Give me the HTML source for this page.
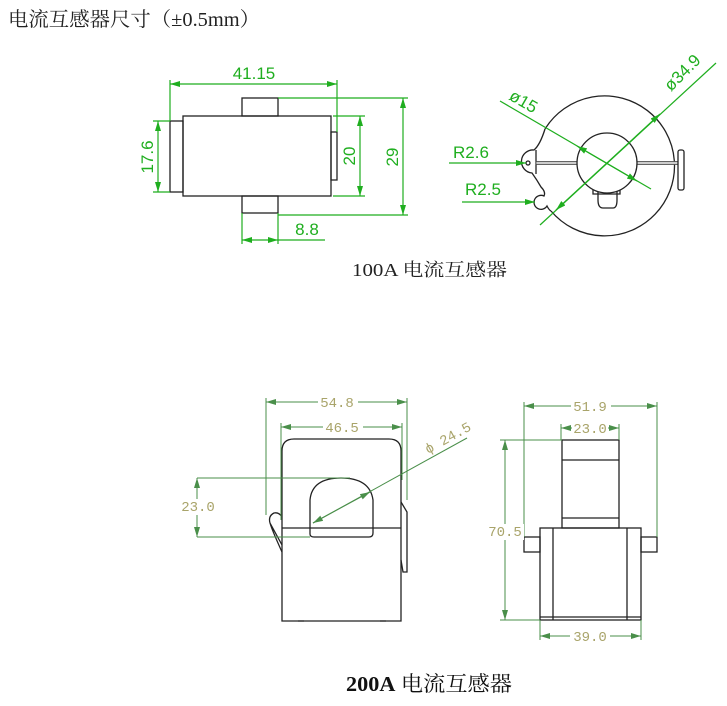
<!DOCTYPE html>
<html><head><meta charset="utf-8"><style>
body{margin:0;background:#fff;width:727px;height:706px;overflow:hidden}
svg{display:block}
.cn{font-family:"Liberation Serif","Noto Serif CJK SC","Noto Sans CJK SC",serif}
.g{stroke:#1fae1f;stroke-width:1.2;fill:none}
.gt{fill:#1fae1f;font-family:"Liberation Sans",sans-serif;font-size:17px}
.k{stroke:#222;stroke-width:1.3;fill:none}
.d{stroke:#4a8f4a;stroke-width:1;fill:none}
.dt{fill:#a9a46a;font-family:"Liberation Mono","Liberation Serif",monospace;font-size:14px}
</style></head><body>
<svg width="727" height="706" viewBox="0 0 727 706" xmlns="http://www.w3.org/2000/svg">
<defs>
<marker id="ag" markerWidth="10" markerHeight="6" refX="10" refY="3" orient="auto-start-reverse" markerUnits="userSpaceOnUse"><path d="M0,0 L10,3 L0,6z" fill="#1fae1f"/></marker>
<marker id="ad" markerWidth="10" markerHeight="6" refX="10" refY="3" orient="auto-start-reverse" markerUnits="userSpaceOnUse"><path d="M0,0 L10,3 L0,6z" fill="#4a8f4a"/></marker>
</defs>
<text x="8" y="26" class="cn" font-size="20" fill="#222" textLength="252" lengthAdjust="spacingAndGlyphs">电流互感器尺寸（±0.5mm）</text>

<!-- 100A side view -->
<rect x="170" y="121" width="13" height="71" class="k"/>
<rect x="183" y="116" width="148" height="80" class="k"/>
<rect x="242" y="98" width="36" height="18" class="k"/>
<rect x="242" y="196" width="36" height="17" class="k"/>
<rect x="331" y="132" width="6" height="48" class="k"/>
<path class="g" d="M170 80V121M337 80V132M153 121H170M153 192H170M333 116H365M333 196H365M278 98H408M278 215H408M242 213V244M278 213V244"/>
<line x1="170" y1="84" x2="337" y2="84" class="g" marker-start="url(#ag)" marker-end="url(#ag)"/>
<line x1="158" y1="121" x2="158" y2="192" class="g" marker-start="url(#ag)" marker-end="url(#ag)"/>
<line x1="360" y1="116" x2="360" y2="196" class="g" marker-start="url(#ag)" marker-end="url(#ag)"/>
<line x1="403" y1="98" x2="403" y2="215" class="g" marker-start="url(#ag)" marker-end="url(#ag)"/>
<line x1="242" y1="240" x2="278" y2="240" class="g" marker-start="url(#ag)" marker-end="url(#ag)"/>
<line x1="278" y1="240" x2="325" y2="240" class="g"/>
<text x="254" y="79" class="gt" text-anchor="middle">41.15</text>
<text x="307" y="235" class="gt" text-anchor="middle">8.8</text>
<text transform="translate(153,157) rotate(-90)" class="gt" text-anchor="middle">17.6</text>
<text transform="translate(355,156) rotate(-90)" class="gt" text-anchor="middle">20</text>
<text transform="translate(398,157) rotate(-90)" class="gt" text-anchor="middle">29</text>

<!-- 100A front view -->
<path class="k" d="M545 129 A70 70 0 1 1 551 211"/>
<path class="k" d="M545 129 Q540 145 534 150 A9 9 0 0 0 532 173 Q537 180 541 187 Q546 192 544 196 A7 7 0 1 0 547 206 Q549 210 551 211"/>
<circle cx="528" cy="163" r="2" class="k"/>
<line x1="536" y1="150" x2="536" y2="174" class="k"/>
<rect x="536" y="161.5" width="142" height="3" fill="#ccc" stroke="#444" stroke-width="0.8"/>
<path class="k" d="M598 191 L598 200 Q598 208 603 208 L613 208 Q617 208 617 200 L617 191"/>
<path class="k" d="M593 189 L593 194 L620 194 L620 189"/>
<circle cx="607" cy="163" r="30" fill="#fff" stroke="#222" stroke-width="1.3"/>
<rect x="678" y="150" width="6" height="40" rx="2" class="k"/>
<line x1="500" y1="101" x2="651" y2="189" class="g"/>
<line x1="577" y1="146" x2="637" y2="181" class="g" marker-start="url(#ag)" marker-end="url(#ag)"/>
<line x1="540" y1="225" x2="716" y2="63" class="g"/>
<line x1="556" y1="210" x2="660" y2="114" class="g" marker-start="url(#ag)" marker-end="url(#ag)"/>
<line x1="449" y1="163" x2="526" y2="163" class="g" marker-end="url(#ag)"/>
<line x1="462" y1="202" x2="535" y2="202" class="g" marker-end="url(#ag)"/>
<text x="453" y="158" class="gt">R2.6</text>
<text x="465" y="195" class="gt">R2.5</text>
<text transform="translate(508,99) rotate(30)" class="gt">ø15</text>
<text transform="translate(671,92) rotate(-45)" class="gt">ø34.9</text>

<text x="352" y="276" class="cn" font-size="18" fill="#222" textLength="155" lengthAdjust="spacingAndGlyphs">100A 电流互感器</text>

<!-- 200A front -->
<path class="k" d="M282 621 V451 Q282 439 294 439 H389 Q401 439 401 451 V621 Z"/>
<line x1="282" y1="528" x2="401" y2="528" class="k"/>
<path class="k" d="M310 534 V500 Q312 478 341 478 Q370 478 373 500 V533 Q373 537 369 537 H314 Q310 537 310 534Z" fill="#fff"/>
<path class="k" d="M282 517 Q279 512 274 513 Q268 516 270 523 L282 545 M270 523 Q272 530 282 552"/>
<path class="k" d="M401 502 L407 512 V572 H403 L401 560"/>
<path class="k" d="M298 621 H304 M380 621 H386"/>
<path class="d" d="M266 398V515M407 398V500M281 423V520M402 423V480M197 478H350M197 537H310"/>
<line x1="266" y1="402" x2="407" y2="402" class="d" marker-start="url(#ad)" marker-end="url(#ad)"/>
<line x1="281" y1="427" x2="402" y2="427" class="d" marker-start="url(#ad)" marker-end="url(#ad)"/>
<line x1="197" y1="478" x2="197" y2="537" class="d" marker-start="url(#ad)" marker-end="url(#ad)"/>
<line x1="313" y1="523" x2="467" y2="438" class="d"/>
<line x1="313" y1="523" x2="370" y2="492" class="d" marker-start="url(#ad)" marker-end="url(#ad)"/>
<rect x="318" y="395" width="40" height="14" fill="#fff"/>
<text x="337" y="407" class="dt" text-anchor="middle">54.8</text>
<rect x="323" y="420" width="40" height="14" fill="#fff"/>
<text x="342" y="432" class="dt" text-anchor="middle">46.5</text>
<rect x="180" y="499" width="36" height="16" fill="#fff"/>
<text x="198" y="511" class="dt" text-anchor="middle">23.0</text>
<text transform="translate(428,454) rotate(-29)" class="dt">ϕ 24.5</text>

<!-- 200A side -->
<rect x="562" y="440" width="57" height="88" class="k"/>
<path class="k" d="M562 460 H619 M562 518 H619"/>
<rect x="540" y="528" width="101" height="92" class="k"/>
<path class="k" d="M553 528 V620 M627 528 V620 M540 617 H641"/>
<rect x="524" y="537" width="16" height="15" class="k"/>
<rect x="641" y="537" width="16" height="15" class="k"/>
<path class="d" d="M524 402V537M657 402V537M561 424V440M619 424V440M500 440H562M500 620H540M540 620V640M641 620V640"/>
<line x1="524" y1="406" x2="657" y2="406" class="d" marker-start="url(#ad)" marker-end="url(#ad)"/>
<line x1="561" y1="428" x2="619" y2="428" class="d" marker-start="url(#ad)" marker-end="url(#ad)"/>
<line x1="505" y1="440" x2="505" y2="620" class="d" marker-start="url(#ad)" marker-end="url(#ad)"/>
<line x1="540" y1="636" x2="641" y2="636" class="d" marker-start="url(#ad)" marker-end="url(#ad)"/>
<rect x="571" y="399" width="40" height="14" fill="#fff"/>
<text x="590" y="411" class="dt" text-anchor="middle">51.9</text>
<rect x="572" y="421" width="36" height="14" fill="#fff"/>
<text x="590" y="433" class="dt" text-anchor="middle">23.0</text>
<rect x="486" y="524" width="38" height="16" fill="#fff"/>
<text x="505" y="536" class="dt" text-anchor="middle">70.5</text>
<rect x="570" y="629" width="40" height="14" fill="#fff"/>
<text x="590" y="641" class="dt" text-anchor="middle">39.0</text>

<text x="346" y="691" class="cn" font-size="21" fill="#111" textLength="166" lengthAdjust="spacingAndGlyphs"><tspan font-weight="bold">200A</tspan> 电流互感器</text>
</svg>
</body></html>
